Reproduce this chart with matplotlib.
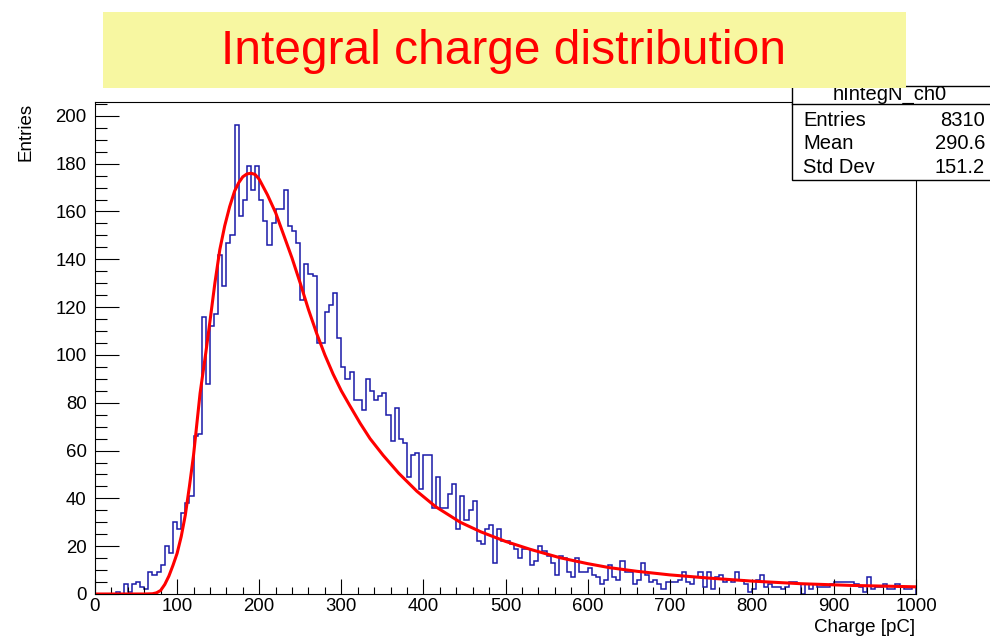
import numpy as np
import matplotlib
matplotlib.use('Agg')
import matplotlib.pyplot as plt
from matplotlib.patches import Rectangle
from matplotlib.ticker import MultipleLocator

plt.rcParams['font.family'] = ['Liberation Sans', 'DejaVu Sans']

# histogram: 200 bins of 5 pC from 0 to 1000
bin_edges = np.arange(0, 1005, 5)
counts = [
    0, 0, 0, 0, 0, 1, 0, 4, 1, 4,
    5, 3, 2, 9, 8, 9, 12, 20, 17, 30,
    27, 34, 38, 41, 66, 67, 116, 88, 112, 117,
    142, 129, 147, 150, 196, 158, 165, 179, 169, 179,
    165, 156, 146, 155, 161, 161, 169, 154, 152, 147,
    123, 138, 134, 133, 105, 105, 118, 121, 126, 107,
    95, 90, 93, 81, 81, 77, 90, 85, 81, 83,
    84, 75, 64, 78, 65, 63, 49, 58, 59, 44,
    58, 58, 36, 49, 36, 36, 42, 46, 27, 41,
    31, 35, 39, 22, 21, 27, 29, 13, 27, 22,
    22, 21, 19, 15, 19, 19, 12, 14, 20, 18,
    16, 13, 8, 16, 15, 9, 7, 15, 9, 9,
    11, 8, 7, 4, 6, 12, 7, 6, 14, 9,
    9, 4, 6, 13, 8, 5, 6, 4, 2, 5,
    5, 5, 6, 9, 5, 4, 7, 9, 3, 9,
    2, 7, 8, 5, 6, 5, 9, 6, 4, 1,
    2, 6, 8, 3, 4, 3, 3, 2, 3, 5,
    5, 4, 0, 4, 2, 4, 3, 3, 3, 4,
    5, 5, 5, 5, 5, 4, 3, 1, 7, 2,
    3, 3, 4, 2, 2, 4, 3, 2, 2, 3,
]

# fitted curve
fit_x = [0, 20, 40, 60, 70, 75, 80, 85, 90, 95, 100, 105, 110, 115, 120,
         128, 135, 140, 146, 152, 158, 164, 170, 175, 180, 185, 190, 195,
         200, 210, 220, 230, 240, 250, 260, 270, 280, 290, 300, 310, 323,
         335, 351, 370, 392, 415, 445, 470, 500, 530, 566, 600, 627, 660,
         700, 750, 800, 860, 920, 1000]
fit_y = [0, 0, 0, 0, 0.1, 0.5, 1.5, 4, 7.5, 12, 17, 24, 33, 45, 58,
         84, 101, 114, 130, 144, 154, 162, 168.5, 172, 174.5, 175.7, 176, 175.5,
         173.5, 167, 159.5, 150, 140.5, 130, 119, 109, 100, 92, 85, 79, 71.4,
         65, 58, 50.5, 43, 36.5, 30, 26, 22, 18.7, 15.2, 12.7, 11, 9.5,
         8, 6.6, 5.4, 4.3, 3.6, 3]

hist_name = 'hIntegN_ch0'
stat_names = ['Entries', 'Mean', 'Std Dev']
stat_values = ['8310', '290.6', '151.2']

W, H = 990, 636
fig = plt.figure(figsize=(W / 100, H / 100), dpi=100)
ax = fig.add_axes([95 / W, 1 - 594 / H, 821 / W, 492 / H])

ax.stairs(counts, bin_edges, color='#1a1aa8', linewidth=1.1)
ax.plot(fit_x, fit_y, color='#ff0000', linewidth=2.2)

ax.set_xlim(0, 1000)
ax.set_ylim(0, max(counts) * 1.05)

ax.xaxis.set_major_locator(MultipleLocator(100))
ax.xaxis.set_minor_locator(MultipleLocator(20))
ax.yaxis.set_major_locator(MultipleLocator(20))
ax.yaxis.set_minor_locator(MultipleLocator(5))
ax.tick_params(axis='x', which='major', direction='in', length=10.8, width=0.8,
               labelsize=13.4, pad=3)
ax.tick_params(axis='x', which='minor', direction='in', length=5.4, width=0.8)
ax.tick_params(axis='y', which='major', direction='in', length=17.5, width=0.8,
               labelsize=13.4, pad=6)
ax.tick_params(axis='y', which='minor', direction='in', length=8.7, width=0.8)
for s in ax.spines.values():
    s.set_linewidth(0.8)

fig.text(915 / W, 1 - 628 / H, 'Charge [pC]', ha='right', va='center', fontsize=13.5)
fig.text(26 / W, 1 - 103 / H, 'Entries', rotation=90, ha='center', va='top',
         fontsize=13.5)

# stats box (top edge tucked under the title box, header text cut at the top)
box = Rectangle((792 / W, 1 - 180 / H), 210 / W, 94 / H,
                transform=fig.transFigure, facecolor='white',
                edgecolor='black', linewidth=1, zorder=2)
fig.patches.append(box)
fig.lines.append(plt.Line2D([792 / W, 1], [1 - 104 / H, 1 - 104 / H],
                            transform=fig.transFigure, color='black',
                            linewidth=1, zorder=2.1))
header = fig.text(890 / W, 1 - 94 / H, hist_name, ha='center', va='center',
                  fontsize=14.5, zorder=2.2)
header.set_clip_path(box)
for k, (name, val) in enumerate(zip(stat_names, stat_values)):
    yy = 1 - (120 + 23.7 * k) / H
    fig.text(803 / W, yy, name, ha='left', va='center', fontsize=14.5, zorder=2.2)
    fig.text(985 / W, yy, val, ha='right', va='center', fontsize=14.5, zorder=2.2)

# title box
fig.patches.append(Rectangle((103 / W, 1 - 88 / H), 803 / W, 76 / H,
                             transform=fig.transFigure, facecolor='#f7f7a1',
                             edgecolor='none', zorder=3))
fig.text(504 / W, 1 - 52 / H, 'Integral charge distribution', ha='center',
         va='center', color='#ff0000', fontsize=34.5, zorder=3.1)

fig.savefig('out.png', dpi=100)
